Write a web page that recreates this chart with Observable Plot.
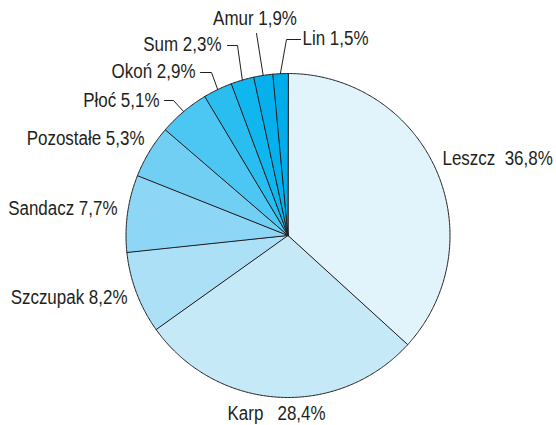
<!DOCTYPE html>
<html><head><meta charset="utf-8">
<script src="https://cdn.jsdelivr.net/npm/d3@7"></script>
<script src="https://cdn.jsdelivr.net/npm/@observablehq/plot@0.6"></script>
<style>body{margin:0;background:#fff} svg text{white-space:pre}</style>
</head><body><div id="chart"></div>
<script>
// ---- data ----
const categories = ["Leszcz","Karp","Szczupak","Sandacz","Pozostałe","Płoć","Okoń","Sum","Amur","Lin"];
const shares = [36.8, 28.4, 8.2, 7.7, 5.3, 5.1, 2.9, 2.3, 1.9, 1.5];
const shareLabels = ["36,8%","28,4%","8,2%","7,7%","5,3%","5,1%","2,9%","2,3%","1,9%","1,5%"];

// ---- styles / layout ----
const colors = ["#e1f3fb","#c6e9f8","#abe0f7","#8dd6f5","#71cff4","#4cc6f2","#29bdf0","#10b6ee","#06b0ec","#00acea"];
const W = 556, H = 425, CX = 287.5, CY = 235, R = 162;
const FONT = "'Liberation Sans', Arial, Helvetica, sans-serif";
const CONDENSE = 0.87;
const INK = "#231f20";
// label anchor (pixels), text anchor, gap between name and value, leader waypoints (pixels)
const labelLayout = [
  {x: 442, y: 158, anchor: "start", gap: "\u00a0\u00a0", leader: null},
  {x: 227, y: 413, anchor: "start", gap: "\u00a0\u00a0\u00a0", leader: null},
  {x: 127, y: 297, anchor: "end", gap: " ", leader: null},
  {x: 117, y: 208, anchor: "end", gap: " ", leader: null},
  {x: 144, y: 138, anchor: "end", gap: " ", leader: null},
  {x: 159, y: 100, anchor: "end", gap: " ", leader: [[164,100],[173,100]]},
  {x: 195, y: 71, anchor: "end", gap: " ", leader: [[200,72],[211,72]]},
  {x: 221, y: 44, anchor: "end", gap: " ", leader: [[227,45],[237,45]]},
  {x: 254.5, y: 18, anchor: "middle", gap: " ", leader: [[256,33]]},
  {x: 302, y: 38, anchor: "start", gap: " ", leader: [[300,39],[286,39]]}
];

const toX = px => (px - CX) / R;
const toY = py => (CY - py) / R;

const rows = categories.map((name, i) => ({name, value: shares[i], label: shareLabels[i], color: colors[i], i}));
const arcs = d3.pie().sort(null).value(d => d.value)(rows);

// slice polygons
const slicePts = [];
for (const a of arcs) {
  slicePts.push({name: a.data.name, color: a.data.color, x: 0, y: 0});
  const n = Math.max(2, Math.ceil((a.endAngle - a.startAngle) / (Math.PI / 360)));
  for (let k = 0; k <= n; k++) {
    const t = a.startAngle + (a.endAngle - a.startAngle) * k / n;
    slicePts.push({name: a.data.name, color: a.data.color, x: Math.sin(t), y: Math.cos(t)});
  }
}

// leaders
const leaderPts = [];
arcs.forEach((a, i) => {
  const L = labelLayout[i];
  if (!L.leader) return;
  for (const [px, py] of L.leader) leaderPts.push({name: a.data.name, x: toX(px), y: toY(py)});
  const m = (a.startAngle + a.endAngle) / 2;
  leaderPts.push({name: a.data.name, x: Math.sin(m), y: Math.cos(m)});
});

const texts = rows.map((d, i) => ({
  text: d.name + labelLayout[i].gap + d.label,
  x: toX(labelLayout[i].x), y: toY(labelLayout[i].y), anchor: labelLayout[i].anchor
}));

const textMark = anchor => Plot.text(texts.filter(t => t.anchor === anchor), {
  x: "x", y: "y", text: "text", textAnchor: anchor, fontSize: 19.5,
  fontFamily: FONT, fill: INK
});

const chart = Plot.plot({
  width: W, height: H,
  margin: 0,
  x: {domain: [-CX / R, (W - CX) / R], range: [0, W], axis: null},
  y: {domain: [(CY - H) / R, CY / R], range: [H, 0], axis: null},
  color: {type: "identity"},
  marks: [
    Plot.line(slicePts, {x: "x", y: "y", z: "name", fill: "color", stroke: INK, strokeWidth: 1, curve: "linear-closed", strokeLinejoin: "round"}),
    Plot.line(leaderPts, {x: "x", y: "y", z: "name", stroke: INK, strokeWidth: 1}),
    textMark("start"), textMark("end"), textMark("middle")
  ]
});
document.getElementById("chart").appendChild(chart);
// condense the label font horizontally (the reference uses a narrow typeface)
chart.querySelectorAll("text").forEach(t => {
  const tr = t.getAttribute("transform") || "";
  t.setAttribute("transform", `${tr} scale(${CONDENSE},1)`);
});
</script>
</body></html>
